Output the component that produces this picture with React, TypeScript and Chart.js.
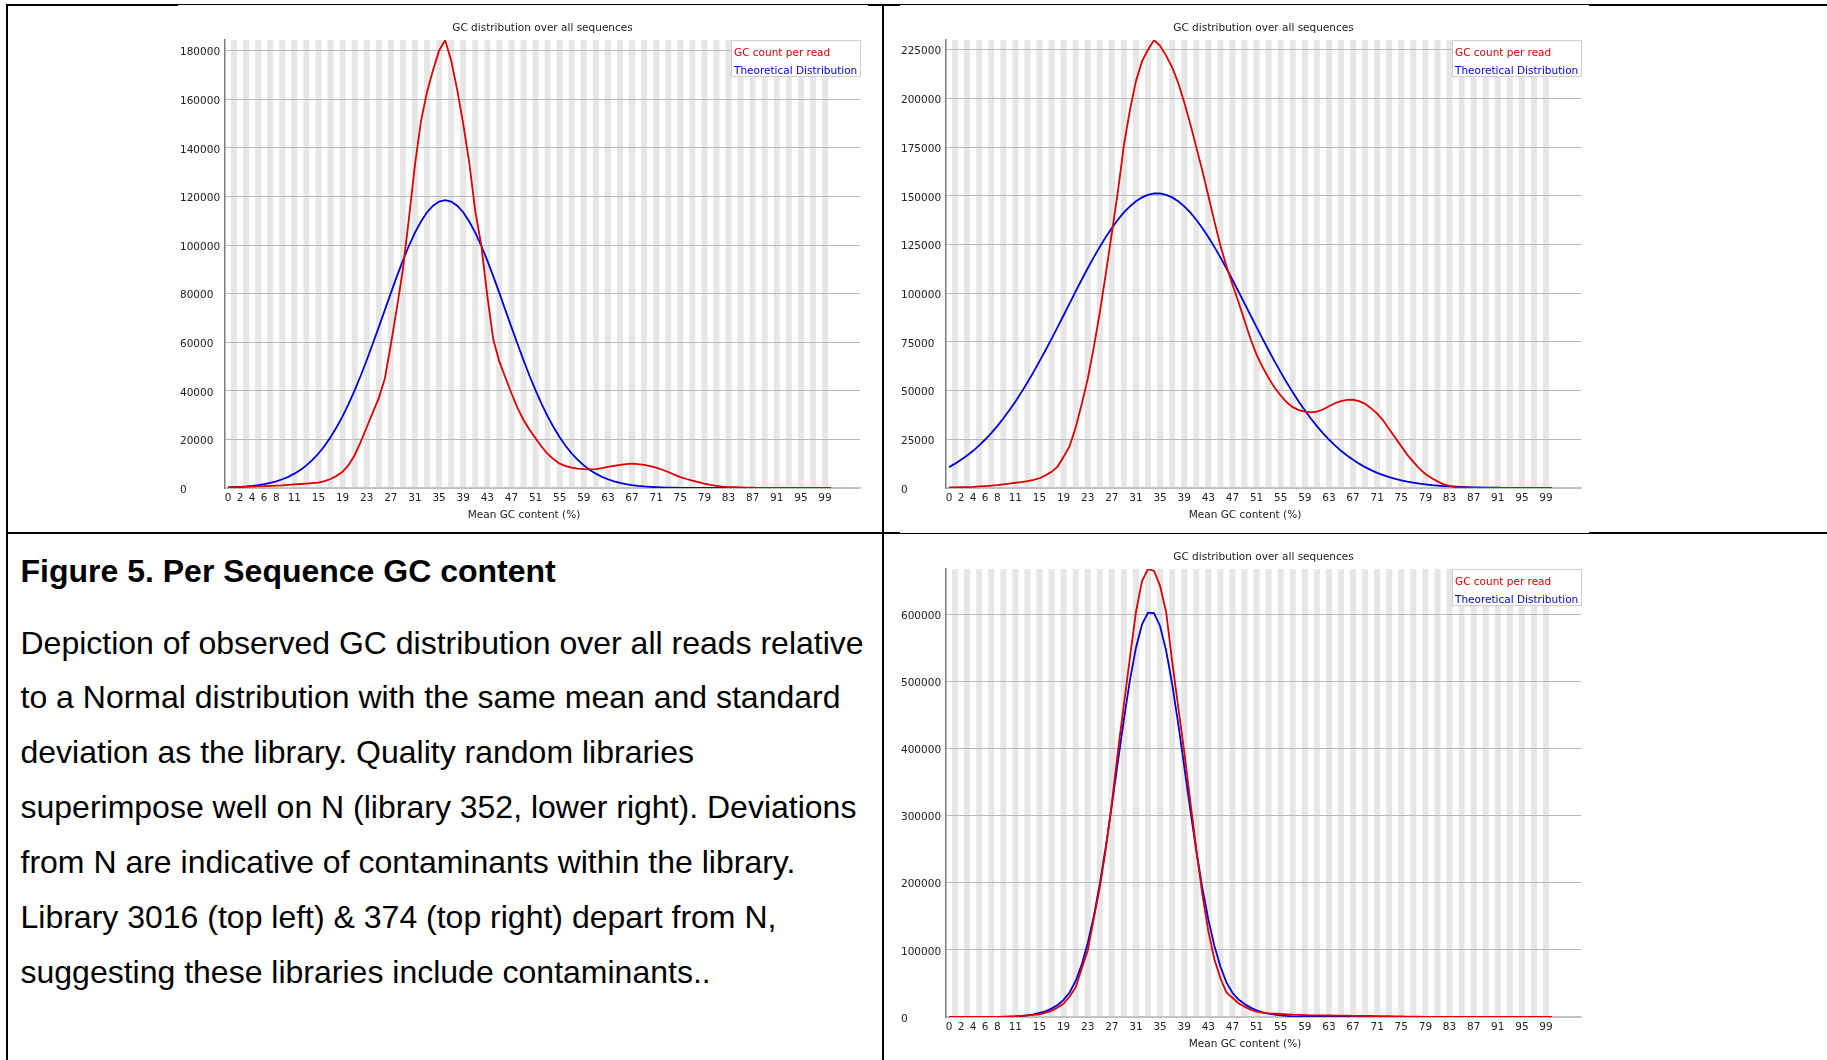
import React, { useEffect, useRef } from "react";
import { Chart, registerables } from "chart.js";

Chart.register(...registerables);

// ---------- data ----------
const GC_PERCENT = [
  0, 1, 2, 3, 4, 5, 6, 7, 8, 9, 10, 11, 12, 13, 14, 15, 16, 17, 18, 19, 20, 21, 22, 23, 24, 25,
  26, 27, 28, 29, 30, 31, 32, 33, 34, 35, 36, 37, 38, 39, 40, 41, 42, 43, 44, 45, 46, 47, 48, 49,
  50, 51, 52, 53, 54, 55, 56, 57, 58, 59, 60, 61, 62, 63, 64, 65, 66, 67, 68, 69, 70, 71, 72, 73,
  74, 75, 76, 77, 78, 79, 80, 81, 82, 83, 84, 85, 86, 87, 88, 89, 90, 91, 92, 93, 94, 95, 96, 97,
  98, 99, 100,
];

const X_TICKS = [0, 2, 4, 6, 8, 11, 15, 19, 23, 27, 31, 35, 39, 43, 47, 51, 55, 59, 63, 67, 71, 75, 79, 83, 87, 91, 95, 99];

const SERIES_NAMES = ["GC count per read", "Theoretical Distribution"];
const CHART_TITLE = "GC distribution over all sequences";
const X_TITLE = "Mean GC content (%)";

// Library 3016 (top left)
const LIB3016_COUNT = [
  200, 300, 400, 500, 600, 700, 800, 900, 1000, 1100,
  1300, 1500, 1650, 1800, 2000, 2200, 2800, 3700, 5000, 6700,
  9500, 13500, 19000, 25000, 31000, 37000, 45000, 59000, 74000, 90000,
  111000, 133000, 151000, 163000, 172000, 180000, 184400, 176000, 164000, 150000,
  134000, 114000, 100000, 79000, 61000, 52000, 45500, 39000, 33000, 28000,
  24000, 20500, 17000, 14000, 11800, 10000, 9000, 8400, 8000, 7800,
  7700, 7800, 8200, 8700, 9100, 9500, 9800, 10000, 9800, 9500,
  9000, 8400, 7500, 6600, 5500, 4500, 3700, 3000, 2400, 1800,
  1300, 900, 600, 400, 300, 200, 150, 100, 80, 60,
  50, 40, 30, 20, 20, 10, 10, 10, 0, 0, 0,
];
const LIB3016_THEORY = [
  240, 330, 460, 630, 860, 1200, 1600, 2100, 2750, 3600,
  4600, 5900, 7400, 9300, 11600, 14200, 17300, 20900, 25000, 29500,
  34600, 40200, 46200, 52600, 59400, 66200, 73200, 80200, 87100, 93600,
  99700, 105100, 109700, 113500, 116200, 117900, 118500, 117900, 116200, 113500,
  109700, 105100, 99700, 93600, 87100, 80200, 73200, 66200, 59400, 52600,
  46200, 40200, 34600, 29500, 25000, 20900, 17300, 14200, 11600, 9300,
  7400, 5900, 4600, 3600, 2750, 2100, 1600, 1200, 860, 630,
  460, 330, 240, 170, 120, 80, 60, 40, 30, 20,
  10, 10, 0, 0, 0, 0, 0, 0, 0, 0,
  0, 0, 0, 0, 0, 0, 0, 0, 0, 0, 0,
];
const Y_TICKS_3016 = [0, 20000, 40000, 60000, 80000, 100000, 120000, 140000, 160000, 180000];

// Library 374 (top right)
const LIB374_COUNT = [
  300, 300, 400, 500, 600, 800, 1000, 1200, 1500, 1900,
  2300, 2700, 3000, 3500, 4200, 5000, 6500, 8300, 11000, 16000,
  21500, 31000, 43000, 56000, 72000, 90000, 110000, 131000, 152000, 176000,
  194000, 209000, 219000, 225000, 230000, 227000, 222000, 216000, 208000, 198000,
  187000, 175000, 163000, 150000, 137000, 124500, 114000, 104500, 95500, 86000,
  76500, 68500, 62000, 56500, 51500, 47500, 44000, 41500, 40000, 39200,
  38800, 39200, 40300, 42000, 43500, 44600, 45200, 45300, 44600, 43200,
  40900, 38200, 34600, 30200, 25800, 21400, 17000, 13400, 9900, 7200,
  5100, 3400, 1900, 1100, 500, 300, 200, 100, 50, 30,
  20, 10, 10, 0, 0, 0, 0, 0, 0, 0, 0,
];
const LIB374_THEORY = [
  10700, 12500, 14500, 16700, 19100, 21900, 24900, 28200, 31800, 35700,
  39900, 44300, 49100, 54200, 59500, 65000, 70700, 76600, 82600, 88700,
  94800, 100900, 106900, 112800, 118400, 123800, 128900, 133500, 137700, 141500,
  144600, 147200, 149200, 150500, 151200, 151200, 150500, 149200, 147200, 144600,
  141500, 137700, 133500, 128900, 123800, 118400, 112800, 106900, 100900, 94800,
  88700, 82600, 76600, 70700, 65000, 59500, 54200, 49100, 44300, 39900,
  35700, 31800, 28200, 24900, 21900, 19100, 16700, 14500, 12500, 10700,
  9200, 7800, 6600, 5600, 4700, 3950, 3300, 2740, 2260, 1860,
  1520, 1240, 1010, 820, 660, 530, 420, 330, 260, 200,
  160, 120, 90, 70, 50, 40, 30, 20, 20, 10, 10,
];
const Y_TICKS_374 = [0, 25000, 50000, 75000, 100000, 125000, 150000, 175000, 200000, 225000];

// Library 352 (lower right)
const LIB352_COUNT = [
  0, 0, 0, 0, 0, 0, 100, 200, 300, 500,
  800, 1200, 1800, 2500, 3200, 4000, 6500, 9200, 14000, 20000,
  30500, 44000, 72000, 99000, 146000, 193000, 250000, 318000, 395000, 465000,
  535000, 603000, 649000, 667000, 664000, 642000, 603000, 530000, 462000, 395000,
  322000, 250000, 183000, 128000, 86000, 58000, 36600, 28600, 20600, 15400,
  10800, 8000, 6500, 5500, 5000, 4500, 4000, 3500, 3200, 2800,
  2500, 2400, 2300, 2200, 2100, 2000, 1900, 1800, 1700, 1600,
  1500, 1400, 1300, 1200, 1000, 800, 600, 500, 400, 300,
  200, 100, 100, 0, 0, 0, 0, 0, 0, 0,
  0, 0, 0, 0, 0, 0, 0, 0, 0, 0, 0,
];
const LIB352_THEORY = [
  100, 100, 100, 100, 100, 100, 100, 100, 200, 300,
  500, 900, 1500, 2500, 4000, 6000, 8500, 12500, 18000, 25500,
  36500, 53600, 77900, 109700, 149600, 197900, 253700, 315300, 379700, 443300,
  501500, 549900, 584500, 602100, 601200, 581800, 545700, 496100, 437100, 373300,
  309000, 247900, 192700, 145300, 106100, 75100, 51500, 36000, 26000, 19500,
  14000, 10000, 7000, 5000, 3500, 2500, 1600, 1000, 600, 400,
  200, 100, 100, 0, 0, 0, 0, 0, 0, 0,
  0, 0, 0, 0, 0, 0, 0, 0, 0, 0,
  0, 0, 0, 0, 0, 0, 0, 0, 0, 0,
  0, 0, 0, 0, 0, 0, 0, 0, 0, 0, 0,
];
const Y_TICKS_352 = [0, 100000, 200000, 300000, 400000, 500000, 600000];

const FIGURE_TITLE = "Figure 5. Per Sequence GC content";
const CAPTION_LINES = [
  "Depiction of observed GC distribution over all reads relative",
  "to a Normal distribution with the same mean and standard",
  "deviation as the library. Quality random libraries",
  "superimpose well on N (library 352, lower right). Deviations",
  "from N are indicative of contaminants within the library.",
  "Library 3016 (top left) & 374 (top right) depart from N,",
  "suggesting these libraries include contaminants..",
];

// ---------- chart ----------
const FONT_FAMILY = '"DejaVu Sans", Verdana, sans-serif';
const RED = "rgb(220,0,0)";
const BLUE = "rgb(0,0,220)";
const CANVAS_W = 692;
const CANVAS_H = 528;

const fastqcDecor = {
  id: "fastqcDecor",
  beforeDraw(chart: any) {
    const { ctx, chartArea, scales } = chart;
    const xs = scales.x;
    ctx.save();
    ctx.fillStyle = "rgb(230,230,230)";
    GC_PERCENT.forEach((v, i) => {
      if (i % 2 === 1) {
        const x0 = xs.getPixelForValue(v - 0.5);
        const x1 = xs.getPixelForValue(v + 0.5);
        ctx.fillRect(x0, chartArea.top, x1 - x0, chartArea.bottom - chartArea.top);
      }
    });
    ctx.restore();
  },
  afterDraw(chart: any) {
    const { ctx, chartArea, width } = chart;
    ctx.save();
    ctx.font = `10.5px ${FONT_FAMILY}`;
    ctx.fillStyle = "#222";
    ctx.textAlign = "center";
    ctx.textBaseline = "middle";
    ctx.fillText(CHART_TITLE, (chartArea.left + chartArea.right) / 2, 28);
    ctx.fillText(X_TITLE, width / 2, 515);

    const ds = chart.data.datasets;
    const widest = Math.max(...ds.map((d: any) => ctx.measureText(d.label).width)) + 6;
    const bw = Math.round(widest);
    const bx = Math.round(chartArea.right - bw);
    const by = Math.round(chartArea.top);
    ctx.fillStyle = "#fff";
    ctx.fillRect(bx, by, bw, 36);
    ctx.strokeStyle = "#cfcfcf";
    ctx.lineWidth = 1;
    ctx.strokeRect(bx + 0.5, by + 0.5, bw, 36);
    ctx.textAlign = "left";
    ds.forEach((d: any, t: number) => {
      ctx.fillStyle = d.borderColor;
      ctx.fillText(d.label, bx + 3, by + 13.5 + 17.5 * t);
    });
    ctx.restore();
  },
};

function GcChart(props: { count: number[]; theory: number[]; yTicks: number[]; left: number; top: number }) {
  const { count, theory, yTicks, left, top } = props;
  const ref = useRef<HTMLCanvasElement | null>(null);

  useEffect(() => {
    const canvas = ref.current;
    if (!canvas) return;
    const yMax = Math.max(...count, ...theory);
    const tickFont = { family: FONT_FAMILY, size: 10.5 };
    const chart = new Chart(canvas, {
      type: "line",
      data: {
        datasets: [
          {
            label: SERIES_NAMES[0],
            data: count.map((v, i) => ({ x: GC_PERCENT[i], y: v })),
            borderColor: RED,
            backgroundColor: RED,
            borderWidth: 1.8,
            pointRadius: 0,
            tension: 0,
            fill: false,
          },
          {
            label: SERIES_NAMES[1],
            data: theory.map((v, i) => ({ x: GC_PERCENT[i], y: v })),
            borderColor: BLUE,
            backgroundColor: BLUE,
            borderWidth: 1.8,
            pointRadius: 0,
            tension: 0,
            fill: false,
          },
        ],
      },
      options: {
        animation: false,
        responsive: false,
        maintainAspectRatio: false,
        events: [],
        layout: { padding: { left: 2, right: 10, top: 40, bottom: 0 } },
        plugins: {
          legend: { display: false },
          tooltip: { enabled: false },
          title: { display: false },
        },
        scales: {
          x: {
            type: "linear",
            min: -0.5,
            max: 104.8,
            afterBuildTicks: (s: any) => {
              s.ticks = X_TICKS.map((v) => ({ value: v }));
            },
            afterFit: (s: any) => {
              s.height = 40;
            },
            grid: { display: false, drawTicks: false },
            border: { display: true, color: "#c4c4c4", width: 1.5 },
            ticks: {
              autoSkip: false,
              maxRotation: 0,
              minRotation: 0,
              padding: 4,
              font: tickFont,
              color: "#222",
              callback: (v: any) => String(v),
            },
          },
          y: {
            type: "linear",
            min: 0,
            max: yMax,
            afterBuildTicks: (s: any) => {
              s.ticks = yTicks.map((v) => ({ value: v }));
            },
            afterFit: (s: any) => {
              s.width = 45;
            },
            grid: { color: "#b9b9b9", lineWidth: 1, drawTicks: false },
            border: { display: true, color: "#7d7d7d", width: 1.5 },
            ticks: {
              autoSkip: false,
              crossAlign: "far",
              padding: 3,
              labelOffset: 2,
              font: tickFont,
              color: "#222",
              callback: (v: any) => String(v),
            },
          },
        },
      },
      plugins: [fastqcDecor],
    } as any);
    return () => chart.destroy();
  }, [count, theory, yTicks]);

  return (
    <canvas
      ref={ref}
      width={CANVAS_W}
      height={CANVAS_H}
      style={{ position: "absolute", left, top, width: CANVAS_W, height: CANVAS_H }}
    />
  );
}

function Rule(props: { l: number; t: number; w: number; h: number }) {
  return (
    <div
      style={{
        position: "absolute",
        left: props.l,
        top: props.t,
        width: props.w,
        height: props.h,
        background: "#000",
      }}
    />
  );
}

export default function App() {
  const textFont = '"Liberation Sans", Arial, Helvetica, sans-serif';
  return (
    <div
      style={{
        position: "relative",
        width: 1827,
        height: 1060,
        overflow: "hidden",
        background: "#fff",
      }}
    >
      <style>{"html,body{margin:0;padding:0;background:#fff;overflow:hidden}"}</style>

      <GcChart count={LIB3016_COUNT} theory={LIB3016_THEORY} yTicks={Y_TICKS_3016} left={178} top={0} />
      <GcChart count={LIB374_COUNT} theory={LIB374_THEORY} yTicks={Y_TICKS_374} left={899} top={0} />
      <GcChart count={LIB352_COUNT} theory={LIB352_THEORY} yTicks={Y_TICKS_352} left={899} top={529} />

      {/* table borders */}
      <Rule l={6} t={4} w={172} h={2} />
      <Rule l={178} t={4} w={690} h={1} />
      <Rule l={868} t={4} w={32} h={2} />
      <Rule l={900} t={4} w={689} h={1} />
      <Rule l={1589} t={4} w={238} h={2} />
      <Rule l={6} t={4} w={2} h={1056} />
      <Rule l={882} t={4} w={2} h={1056} />
      <Rule l={6} t={532} w={894} h={2} />
      <Rule l={900} t={533} w={689} h={1} />
      <Rule l={1589} t={532} w={238} h={2} />

      <div
        style={{
          position: "absolute",
          left: 20.5,
          top: 544,
          font: `bold 32px ${textFont}`,
          lineHeight: "55px",
          whiteSpace: "nowrap",
          color: "#000",
        }}
      >
        {FIGURE_TITLE}
      </div>
      <div
        style={{
          position: "absolute",
          left: 20.5,
          top: 615.5,
          font: `32px ${textFont}`,
          lineHeight: "54.95px",
          whiteSpace: "nowrap",
          color: "#000",
        }}
      >
        {CAPTION_LINES.map((line) => (
          <div key={line}>{line}</div>
        ))}
      </div>
    </div>
  );
}
